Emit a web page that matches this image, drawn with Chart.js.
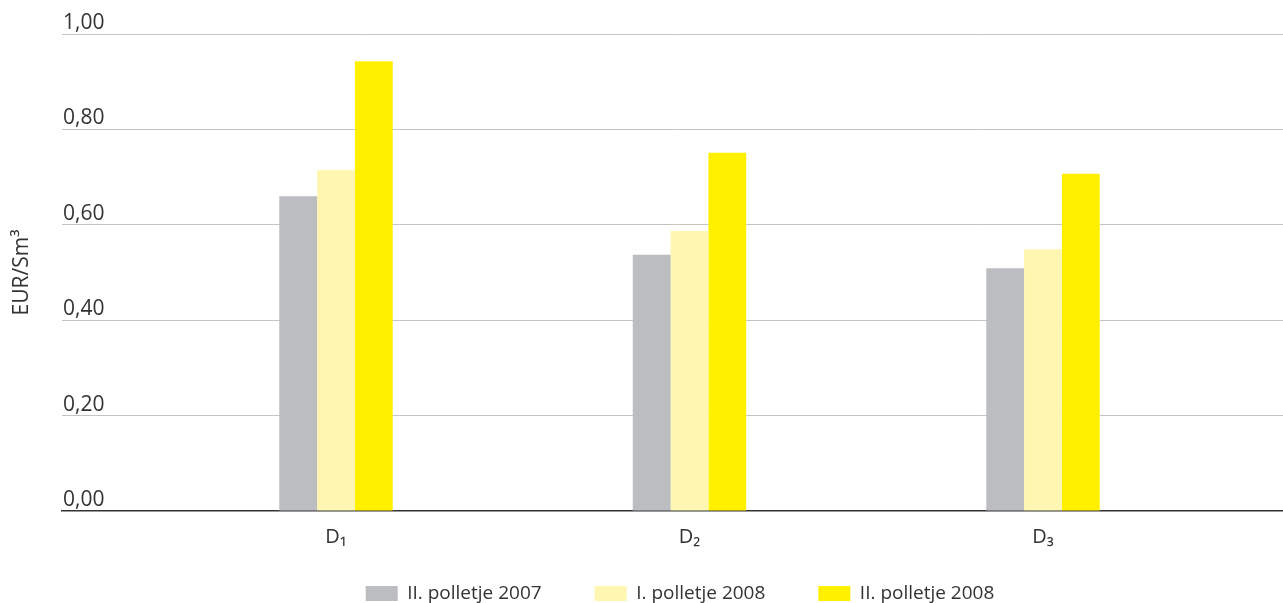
<!DOCTYPE html>
<html>
<head>
<meta charset="utf-8">
<title>EUR/Sm3</title>
<script src="https://cdn.jsdelivr.net/npm/chart.js@4.4.0/dist/chart.umd.min.js"></script>
<style>
  html, body { margin: 0; padding: 0; background: #fff; overflow: hidden; }
  #wrap { width: 1283px; height: 603px; }
</style>
</head>
<body>
<div id="wrap"><canvas id="myChart"></canvas></div>
<script>
// data
let categories = ['D\u2081', 'D\u2082', 'D\u2083'];
let seriesNames = ['II. polletje 2007', 'I. polletje 2008', 'II. polletje 2008'];
let polletje2007II = [0.66, 0.537, 0.509];
let polletje2008I = [0.715, 0.587, 0.549];
let polletje2008II = [0.943, 0.751, 0.707];
let yTicks = [0, 0.2, 0.4, 0.6, 0.8, 1.0];

Chart.defaults.font.family = "'Open Sans', sans-serif";
Chart.defaults.color = '#333';

function points(values){
  return values.map(function(v, i){ return {x: i + 1, y: v}; });
}

// legend padding is also used vertically, so pull the legend row up a bit
let legendLift = {
  id: 'legendLift',
  afterLayout: function(chart){
    chart.legend.top -= 20;
    chart.legend.bottom -= 20;
  }
};

let ctx = document.getElementById('myChart').getContext('2d');

let priceChart = new Chart(ctx, {
  type: 'bar',
  data: {
    datasets: [{
      label: seriesNames[0],
      data: points(polletje2007II),
      backgroundColor: '#bcbdc0',
      borderWidth: 0
    }, {
      label: seriesNames[1],
      data: points(polletje2008I),
      backgroundColor: '#fff7b1',
      borderWidth: 0
    }, {
      label: seriesNames[2],
      data: points(polletje2008II),
      backgroundColor: '#fff000',
      borderWidth: 0
    }]
  },
  plugins: [legendLift],
  options: {
    responsive: true,
    maintainAspectRatio: false,
    animation: false,
    categoryPercentage: 0.321,
    barPercentage: 1,
    layout: {
      padding: {left: 5, right: -72, top: 34, bottom: -30}
    },
    plugins: {
      tooltip: {enabled: false},
      legend: {
        position: 'bottom',
        labels: {
          boxWidth: 32,
          boxHeight: 15,
          padding: 53,
          font: {size: 19},
          color: '#333'
        }
      }
    },
    scales: {
      x: {
        type: 'linear',
        offset: false,
        min: 0.2249,
        max: 3.679,
        grid: {display: true, color: 'rgba(0,0,0,0)', drawTicks: false},
        border: {display: true, color: '#333', width: 1.5},
        afterBuildTicks: function(axis){
          axis.ticks = categories.map(function(c, i){ return {value: i + 1}; });
        },
        afterFit: function(axis){ axis.height = 40; },
        ticks: {
          padding: 14,
          maxRotation: 0,
          autoSkip: false,
          font: {size: 20},
          color: '#333',
          callback: function(v){ return categories[v - 1]; }
        }
      },
      y: {
        min: 0,
        max: 1,
        afterBuildTicks: function(axis){
          axis.ticks = yTicks.map(function(v){ return {value: v}; });
        },
        afterFit: function(axis){ axis.width = 57; },
        border: {display: false},
        grid: {
          drawTicks: false,
          lineWidth: 1,
          color: function(c){
            return c.tick && c.tick.value === 0 ? 'rgba(0,0,0,0)' : '#c4c4c4';
          }
        },
        ticks: {
          mirror: true,
          padding: 1,
          labelOffset: -11,
          font: {size: 21},
          color: '#333',
          callback: function(v){ return v.toFixed(2).replace('.', ','); }
        },
        title: {
          display: true,
          text: 'EUR/Sm\u00b3',
          font: {size: 21},
          color: '#333'
        }
      }
    }
  }
});
</script>
</body>
</html>
